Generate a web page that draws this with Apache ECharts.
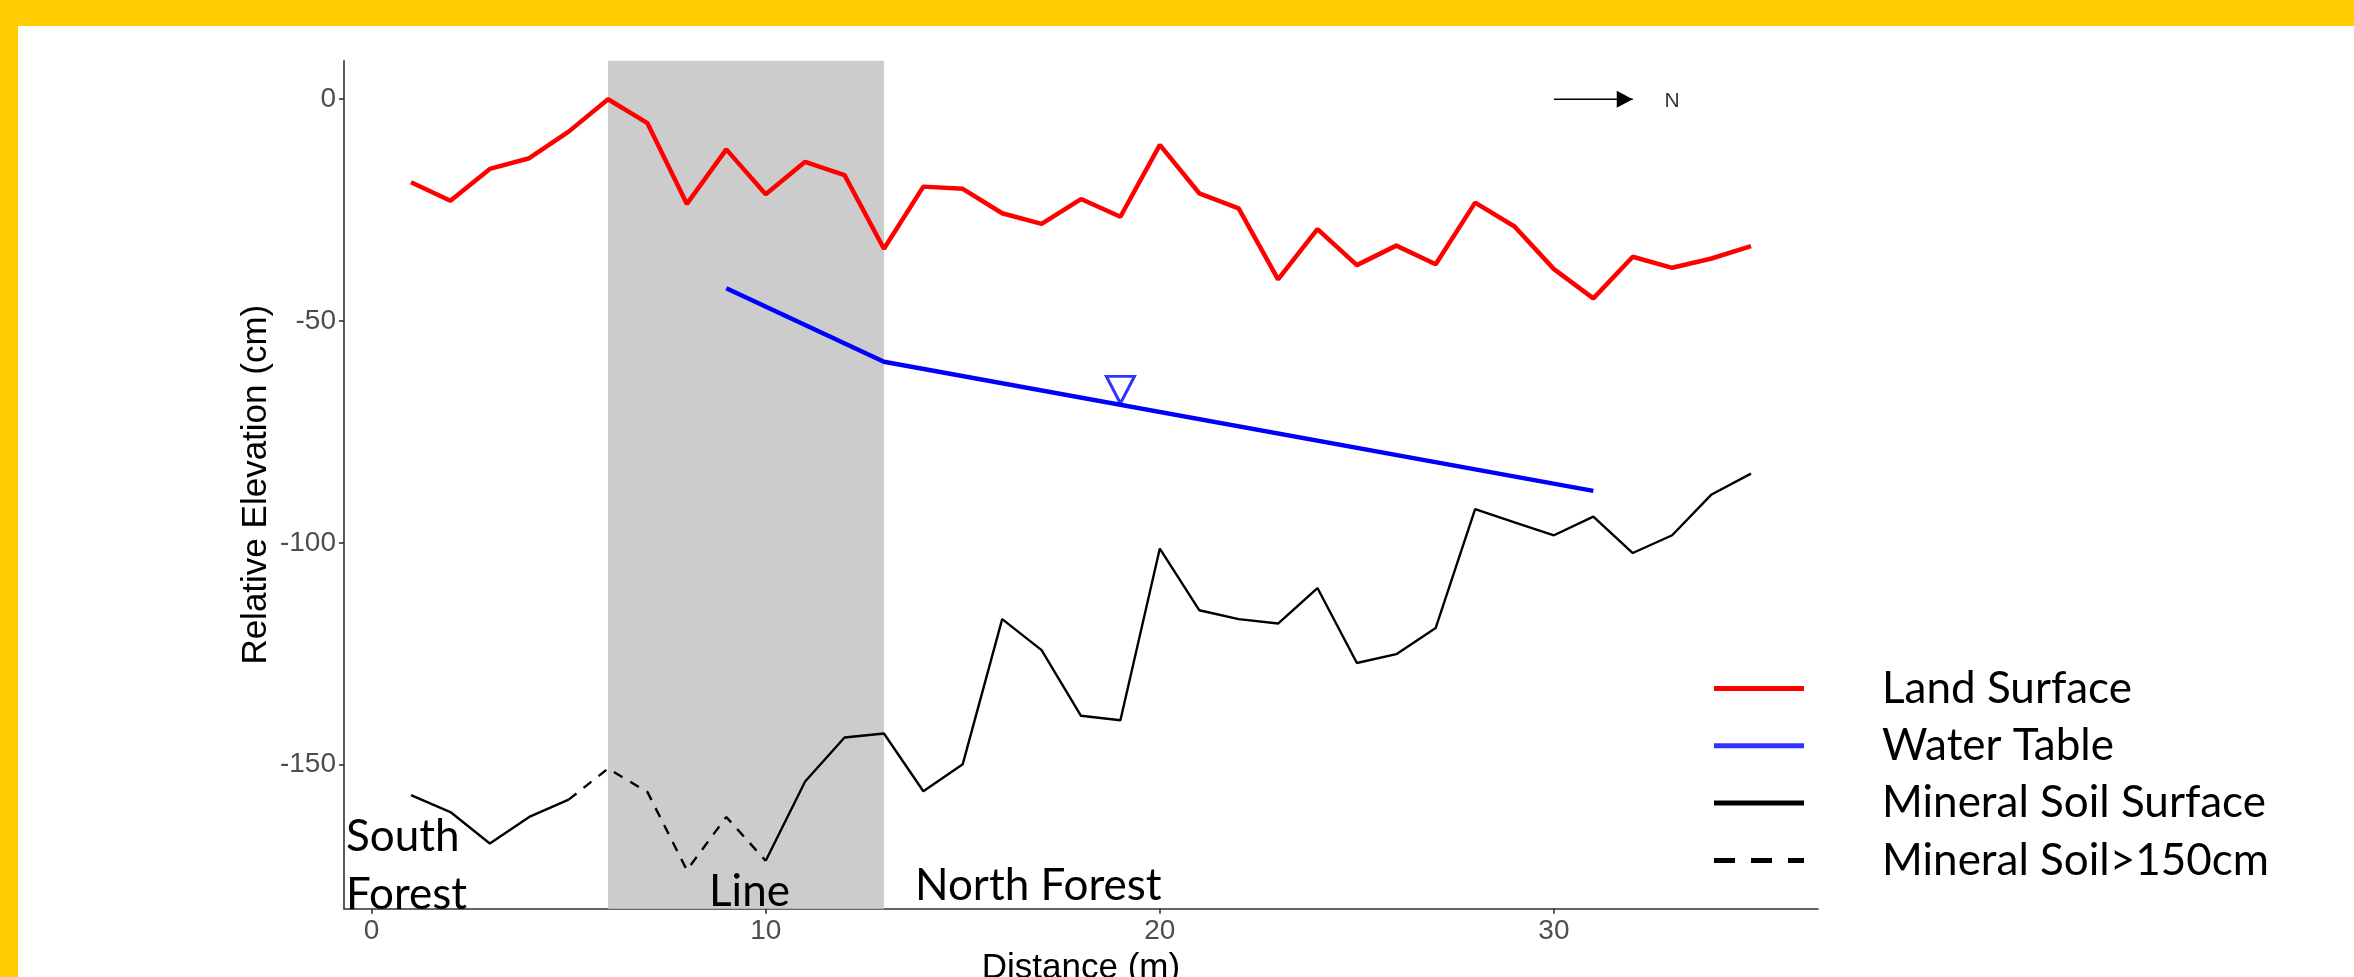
<!DOCTYPE html>
<html>
<head>
<meta charset="utf-8">
<script src="https://cdn.jsdelivr.net/npm/echarts@6/dist/echarts.min.js"></script>
<style>
  html, body { margin: 0; padding: 0; background: #ffffff; }
  #chart { width: 2354px; height: 977px; }
</style>
</head>
<body>
<div id="chart"></div>
<script>
// Transect positions (m)
const distance = [1, 2, 3, 4, 5, 6, 7, 8, 9, 10, 11, 12, 13, 14, 15, 16, 17, 18,
  19, 20, 21, 22, 23, 24, 25, 26, 27, 28, 29, 30, 31, 32, 33, 34, 35];

// Relative elevation of the land surface (cm)
const landSurface = [-18.7, -22.9, -15.7, -13.3, -7.3, 0, -5.4, -23.6, -11.3, -21.4,
  -14.1, -17.1, -33.7, -19.7, -20.2, -25.7, -28.1, -22.5, -26.5, -10.3,
  -21.2, -24.6, -40.6, -29.3, -37.4, -33.0, -37.2, -23.3, -28.7, -38.3,
  -44.9, -35.5, -38.0, -35.9, -33.1];

// Relative elevation of the mineral soil surface (cm)
const mineralSoil = [-156.9, -160.7, -167.8, -161.8, -157.9, -150.9, -156.2, -173.8, -161.8, -171.7,
  -153.8, -143.9, -143.0, -156.0, -149.9, -117.2, -124.2, -139.0, -140.0, -101.3,
  -115.2, -117.2, -118.2, -110.2, -127.1, -125.1, -119.2, -92.4, -95.4, -98.3,
  -94.1, -102.3, -98.3, -89.1, -84.4];

// Stretch where the mineral soil lies deeper than 150 cm (m)
const deepSoilFrom = 5;
const deepSoilTo = 10;

// Water table
const waterTableX = [9, 13, 31];
const waterTableY = [-42.6, -59.2, -88.3];
const waterSymbolAt = [19, -68.9];

// Cleared line through the forest (m)
const lineZone = [6, 13];

// North arrow
const northArrowX = [30, 32];
const northArrowY = [0, 0];
const northLabelAt = [33, 0];

// Tick labels
const xTicks = [0, 10, 20, 30];
const yTicks = [-150, -100, -50, 0];

// Legend names
const seriesNames = ['Land Surface', 'Water Table', 'Mineral Soil Surface', 'Mineral Soil>150cm'];

// ---------------------------------------------------------------------------
function expand(lo, hi) {
  const pad = 0.05 * (hi - lo);
  return [lo - pad, hi + pad];
}
const allY = landSurface.concat(mineralSoil, waterTableY);
const yRange = expand(Math.min(...allY), Math.max(...allY));
const xRange = expand(Math.min(...distance), Math.max(...distance));

const landData = distance.map((x, i) => [x, landSurface[i]]);
const soilSolid = distance.map((x, i) =>
  (x > deepSoilFrom && x < deepSoilTo) ? [x, '-'] : [x, mineralSoil[i]]);
const soilDeep = distance
  .map((x, i) => [x, mineralSoil[i]])
  .filter(p => p[0] >= deepSoilFrom && p[0] <= deepSoilTo);
const waterData = waterTableX.map((x, i) => [x, waterTableY[i]]);
const arrowData = northArrowX.map((x, i) => [x, northArrowY[i]]);

const AXIS_FONT = 'Liberation Sans, Arial, sans-serif';
const NOTE_FONT = 'Lato, "Open Sans", sans-serif';
const NOTE_SIZE = 44;
const axisColor = '#333333';

const chart = echarts.init(document.getElementById('chart'), null, { renderer: 'canvas' });

function note(text, x, y) {
  return {
    type: 'text', z: 50,
    style: { x: x, y: y, text: text, font: NOTE_SIZE + 'px ' + NOTE_FONT, fill: '#000000', verticalAlign: 'middle' }
  };
}

const option = {
  backgroundColor: '#ffffff',
  animation: false,
  grid: {
    left: 344, right: 536, top: 60.7, bottom: 68.3,
    containLabel: false,
    outerBoundsMode: 'none'
  },
  xAxis: {
    type: 'value',
    min: xRange[0], max: xRange[1],
    name: 'Distance (m)',
    nameLocation: 'middle',
    nameGap: 42,
    nameMoveOverlap: false,
    nameTextStyle: { fontFamily: AXIS_FONT, fontSize: 35, color: '#000000' },
    axisLine: { show: true, onZero: false, lineStyle: { color: axisColor, width: 1.6 } },
    axisTick: { show: true, length: 5, customValues: xTicks, lineStyle: { color: axisColor, width: 1.6 } },
    axisLabel: { customValues: xTicks, fontFamily: AXIS_FONT, fontSize: 28, color: '#4D4D4D', margin: 9 },
    splitLine: { show: false }
  },
  yAxis: {
    type: 'value',
    min: yRange[0], max: yRange[1],
    name: 'Relative Elevation (cm)',
    nameLocation: 'middle',
    nameGap: 70,
    nameMoveOverlap: false,
    nameTextStyle: { fontFamily: AXIS_FONT, fontSize: 35, color: '#000000' },
    axisLine: { show: true, onZero: false, lineStyle: { color: axisColor, width: 1.6 } },
    axisTick: { show: true, length: 5, customValues: yTicks, lineStyle: { color: axisColor, width: 1.6 } },
    axisLabel: { customValues: yTicks, fontFamily: AXIS_FONT, fontSize: 28, color: '#4D4D4D', margin: 8 },
    splitLine: { show: false }
  },
  legend: {
    show: true,
    data: [
      { name: seriesNames[0] },
      { name: seriesNames[1], lineStyle: { color: '#3333FF' } },
      { name: seriesNames[2] },
      { name: seriesNames[3], lineStyle: { type: [21, 16] } }
    ],
    orient: 'vertical',
    left: 1711.5,
    top: 666.5,
    padding: 0,
    itemWidth: 90,
    itemHeight: 4,
    itemGap: 13.3,
    selectedMode: false,
    itemStyle: { opacity: 0 },
    lineStyle: { width: 5 },
    textStyle: {
      fontFamily: NOTE_FONT, fontSize: NOTE_SIZE, color: '#000000',
      lineHeight: 40, padding: [0, 0, 0, 73]
    }
  },
  series: [
    {
      // shaded strip for the cleared line
      name: 'zone', type: 'line', data: [], z: 1, silent: true,
      markArea: {
        silent: true,
        itemStyle: { color: '#CCCCCC', opacity: 1 },
        data: [[{ xAxis: lineZone[0] }, { xAxis: lineZone[1] }]]
      }
    },
    {
      name: seriesNames[0], type: 'line', data: landData, z: 4,
      symbol: 'none', lineStyle: { color: '#FF0000', width: 4.5 }, itemStyle: { color: '#FF0000' }
    },
    {
      name: seriesNames[1], type: 'line', data: waterData, z: 4,
      symbol: 'none', lineStyle: { color: '#0000FF', width: 4.5 }, itemStyle: { color: '#0000FF' }
    },
    {
      name: seriesNames[2], type: 'line', data: soilSolid, z: 4, connectNulls: false,
      symbol: 'none', lineStyle: { color: '#000000', width: 2.4 }, itemStyle: { color: '#000000' }
    },
    {
      name: seriesNames[3], type: 'line', data: soilDeep, z: 4,
      symbol: 'none', lineStyle: { color: '#000000', width: 2.4, type: [10, 9] }, itemStyle: { color: '#000000' }
    },
    {
      // water table symbol
      name: 'waterSymbol', type: 'scatter', data: [waterSymbolAt], z: 5, silent: true,
      symbol: 'path://M0,0L28,0L14,27Z', symbolSize: [28, 27], symbolOffset: [0, -15],
      itemStyle: { color: 'rgba(0,0,0,0)', borderColor: '#0000FF', borderWidth: 3 }
    },
    {
      // north arrow
      name: 'northArrow', type: 'line', z: 5, silent: true,
      data: [
        { value: arrowData[0], symbol: 'none' },
        { value: arrowData[1], symbol: 'path://M0,0L16,8.5L0,17Z', symbolSize: [16, 17], symbolOffset: [-8, 0] }
      ],
      showSymbol: true, symbol: 'none',
      lineStyle: { color: '#000000', width: 1.6 },
      itemStyle: { color: '#000000' }
    },
    {
      name: 'northLabel', type: 'scatter', data: [northLabelAt], z: 5, silent: true,
      symbolSize: 1, itemStyle: { color: 'rgba(0,0,0,0)' },
      label: {
        show: true, position: 'inside', formatter: 'N', offset: [0, 2],
        fontFamily: AXIS_FONT, fontSize: 21, color: '#000000'
      }
    }
  ],
  graphic: [
    { type: 'rect', left: 0, top: 0, z: 100, shape: { width: 2354, height: 26 }, style: { fill: '#FFCC00' } },
    { type: 'rect', left: 0, top: 0, z: 100, shape: { width: 18, height: 977 }, style: { fill: '#FFCC00' } },
    note('South', 346, 837),
    note('Forest', 346, 894.5),
    note('Line', 709, 892),
    note('North Forest', 915, 885.5)
  ]
};

chart.setOption(option);
</script>
</body>
</html>
